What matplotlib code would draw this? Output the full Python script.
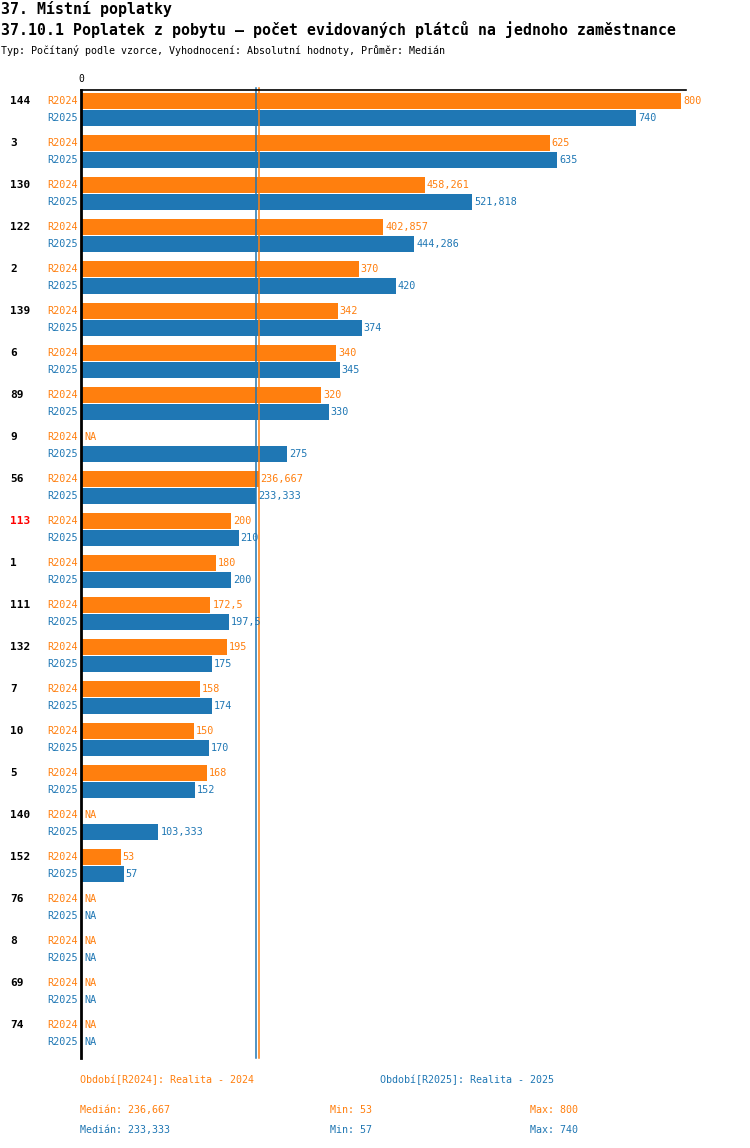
import numpy as np
import matplotlib.pyplot as plt

# data
groups = ['144', '3', '130', '122', '2', '139', '6', '89', '9', '56', '113', '1',
          '111', '132', '7', '10', '5', '140', '152', '76', '8', '69', '74']
r2024 = [800, 625, 458.261, 402.857, 370, 342, 340, 320, np.nan, 236.667, 200, 180,
         172.5, 195, 158, 150, 168, np.nan, 53, np.nan, np.nan, np.nan, np.nan]
r2025 = [740, 635, 521.818, 444.286, 420, 374, 345, 330, 275, 233.333, 210, 200,
         197.5, 175, 174, 170, 152, 103.333, 57, np.nan, np.nan, np.nan, np.nan]
highlight = '113'

orange = '#ff7f0e'
blue = '#1f77b4'
W, H = 750, 1148
mono = 'DejaVu Sans Mono'


def fmt(v):
    s = ('%.3f' % v).rstrip('0').rstrip('.')
    return s.replace('.', ',')


fig = plt.figure(figsize=(W / 100, H / 100), dpi=100)

# axes in pixel coords: x 81..686, y 90..1058
x0, x1, y0, y1 = 81, 686, 90, 1058
ax = fig.add_axes([x0 / W, 1 - y1 / H, (x1 - x0) / W, (y1 - y0) / H])
xmax = 800 * (x1 - x0) / 600.0
ax.set_xlim(0, xmax)
pitch = 42.0
ctr0 = 109.5
ax.set_ylim((y1 - ctr0) / pitch, (y0 - ctr0) / pitch)
for s in ax.spines.values():
    s.set_visible(False)
ax.set_xticks([])
ax.set_yticks([])

a24 = np.array(r2024, dtype=float)
a25 = np.array(r2025, dtype=float)
pos = np.arange(len(groups))
off = 8.5 / pitch
bh = 15.8 / pitch
ax.barh(pos - off, np.nan_to_num(a24), height=bh, color=orange)
ax.barh(pos + off, np.nan_to_num(a25), height=bh, color=blue)

# medians
m24 = np.nanmedian(a24)
m25 = np.nanmedian(a25)
ax.axvline(m25, color=blue, lw=1.1, ymin=0, ymax=1.002, clip_on=False)
ax.axvline(m24, color=orange, lw=1.1, ymin=0, ymax=1.002, clip_on=False)

# axis lines
ax.plot([0, 0], [ax.get_ylim()[0], ax.get_ylim()[1]], color='black', lw=2, clip_on=False)
ax.plot([0, xmax], [ax.get_ylim()[1]] * 2, color='black', lw=1.2, clip_on=False)
ax.text(0, ax.get_ylim()[1] - 6 / pitch, '0', ha='center', va='bottom',
        family=mono, fontsize=7, color='black')

px = xmax / (x1 - x0)
for i, g in enumerate(groups):
    for v, dy, c, lab in ((a24[i], -off, orange, 'R2024'), (a25[i], off, blue, 'R2025')):
        y = i + dy
        ax.text(-3 * px, y, lab, ha='right', va='center', family=mono,
                fontsize=7.3, color=c)
        if np.isnan(v):
            ax.text(3 * px, y, 'NA', ha='left', va='center', family=mono,
                    fontsize=7.3, color=c)
        else:
            ax.text(v + 2 * px, y, fmt(v), ha='left', va='center', family=mono,
                    fontsize=7.3, color=c)
    ax.text(-71 * px, i - off, g, ha='left', va='center', family=mono,
            fontsize=8, fontweight='bold',
            color='red' if g == highlight else 'black')

# header
fig.text(1 / W, 1 - 9 / H, '37. Místní poplatky', family=mono, fontsize=10.7,
         fontweight='bold', va='center', ha='left')
fig.text(1 / W, 1 - 30 / H,
         '37.10.1 Poplatek z pobytu – počet evidovaných plátců na jednoho zaměstnance',
         family=mono, fontsize=10.7, fontweight='bold', va='center', ha='left')
fig.text(1 / W, 1 - 50 / H,
         'Typ: Počítaný podle vzorce, Vyhodnocení: Absolutní hodnoty, Průměr: Medián',
         family=mono, fontsize=7.2, va='center', ha='left')

# footer
fs = 7.2
fig.text(80 / W, 1 - 1080 / H, 'Období[R2024]: Realita - 2024', family=mono,
         fontsize=fs, color=orange, va='center')
fig.text(380 / W, 1 - 1080 / H, 'Období[R2025]: Realita - 2025', family=mono,
         fontsize=fs, color=blue, va='center')
for yy, arr, c in ((1110, a24, orange), (1130, a25, blue)):
    fig.text(80 / W, 1 - yy / H, 'Medián: ' + fmt(np.nanmedian(arr)), family=mono,
             fontsize=fs, color=c, va='center')
    fig.text(330 / W, 1 - yy / H, 'Min: ' + fmt(np.nanmin(arr)), family=mono,
             fontsize=fs, color=c, va='center')
    fig.text(530 / W, 1 - yy / H, 'Max: ' + fmt(np.nanmax(arr)), family=mono,
             fontsize=fs, color=c, va='center')

fig.savefig('out.png', dpi=100)
